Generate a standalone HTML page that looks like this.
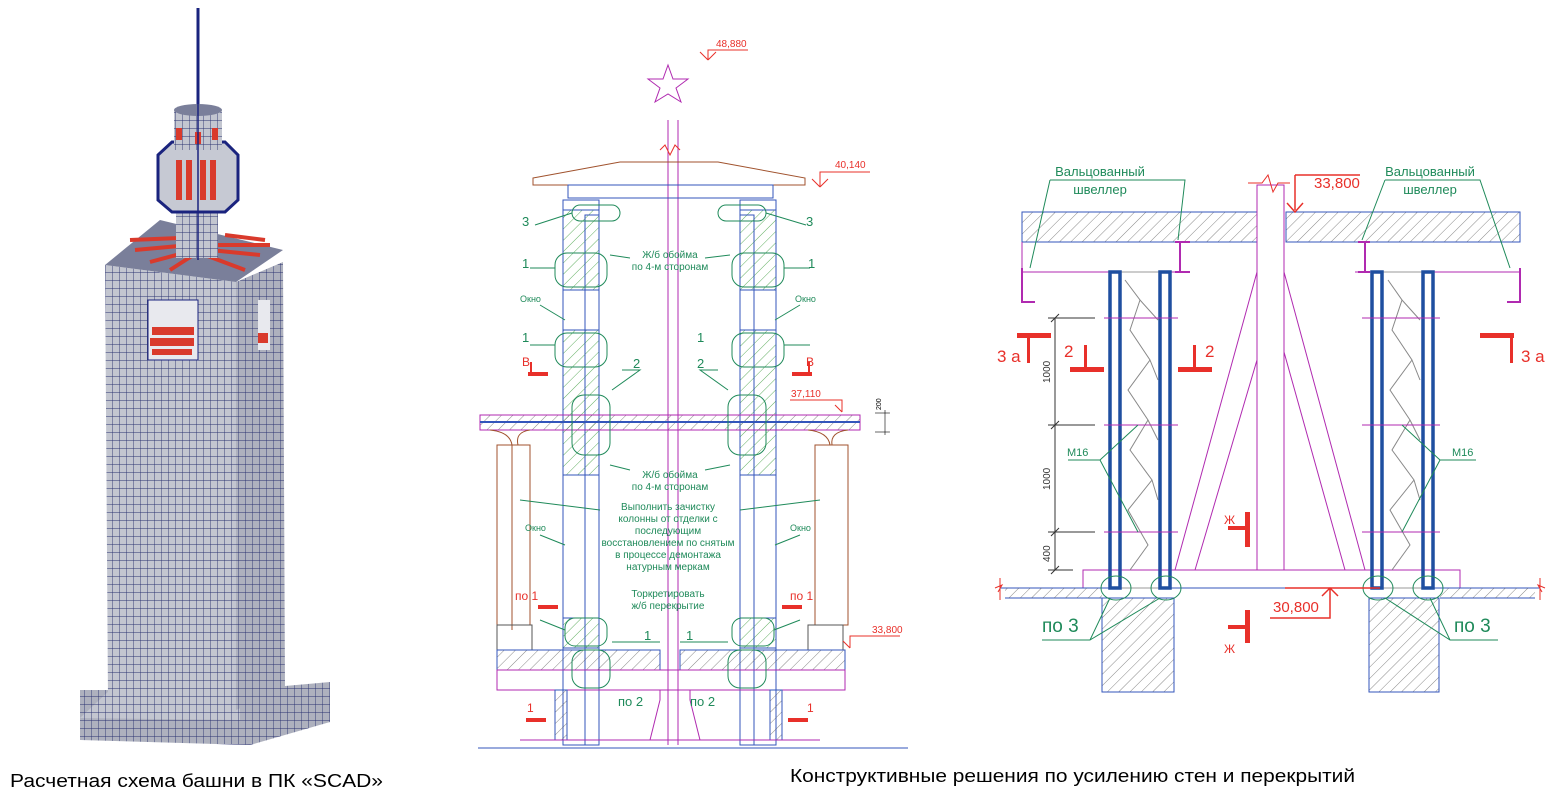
<!DOCTYPE html>
<html><head><meta charset="utf-8"><style>
body{margin:0;background:#fff;width:1564px;height:808px;overflow:hidden}
svg{display:block}
text{font-family:"Liberation Sans","DejaVu Sans",sans-serif}
.g{fill:#1f8a5a;font-size:10px}
.r{fill:#e8302a}
</style></head><body>
<svg width="1564" height="808" viewBox="0 0 1564 808" xmlns="http://www.w3.org/2000/svg">
<defs>
<pattern id="mesh" width="7" height="8" patternUnits="userSpaceOnUse"><rect width="7" height="8" fill="#c3c6d0"/><path d="M0 0H7M0 0V8" stroke="#2a3170" stroke-width="0.9"/></pattern>
<pattern id="mesh2" width="7" height="8" patternUnits="userSpaceOnUse"><rect width="7" height="8" fill="#aeb1be"/><path d="M0 0H7M0 0V8" stroke="#2a3170" stroke-width="0.9"/></pattern>
<pattern id="hat" width="8" height="8" patternUnits="userSpaceOnUse" patternTransform="rotate(45)"><path d="M0 0V8" stroke="#555" stroke-width="0.7"/></pattern>
<pattern id="hatg" width="8" height="8" patternUnits="userSpaceOnUse" patternTransform="rotate(45)"><path d="M0 0V8" stroke="#3a9a3a" stroke-width="0.8"/></pattern>
</defs>

<!-- ===== LEFT TOWER ===== -->
<line x1="198" y1="8" x2="198" y2="110" stroke="#1a237e" stroke-width="3"/>
<polygon points="80,690 240,690 330,682 330,722 250,745 80,740" fill="url(#mesh2)"/>
<polygon points="110,690 240,705 240,720 80,718" fill="url(#mesh)"/>
<polygon points="105,265 236,282 236,710 108,700" fill="url(#mesh)"/>
<polygon points="236,282 283,262 285,690 236,710" fill="url(#mesh2)"/>
<polygon points="105,265 160,220 283,250 236,282" fill="#7a7f9a"/>
<g stroke="#d93a2c" stroke-width="4">
<line x1="135" y1="250" x2="190" y2="245"/><line x1="150" y1="262" x2="195" y2="250"/><line x1="170" y1="270" x2="198" y2="252"/>
<line x1="210" y1="250" x2="260" y2="255"/><line x1="215" y1="245" x2="270" y2="245"/><line x1="205" y1="255" x2="245" y2="270"/>
<line x1="130" y1="240" x2="180" y2="238"/><line x1="225" y1="235" x2="265" y2="240"/></g>
<rect x="176" y="200" width="42" height="58" fill="url(#mesh)"/>
<polygon points="158,155 172,142 225,142 238,155 238,200 225,212 172,212 158,200" fill="#c6c9d3" stroke="#1a237e" stroke-width="3"/>
<g fill="#d93a2c"><rect x="176" y="160" width="6" height="40"/><rect x="186" y="160" width="6" height="40"/><rect x="200" y="160" width="6" height="40"/><rect x="210" y="160" width="6" height="40"/></g>
<rect x="174" y="110" width="48" height="40" fill="url(#mesh)"/>
<ellipse cx="198" cy="110" rx="24" ry="6" fill="#7a7f9a"/>
<g fill="#d93a2c"><rect x="176" y="128" width="6" height="12"/><rect x="195" y="132" width="6" height="12"/><rect x="212" y="128" width="6" height="12"/></g>
<line x1="198" y1="100" x2="198" y2="260" stroke="#1a237e" stroke-width="1.5"/>
<rect x="148" y="300" width="50" height="60" fill="#e8e9ee" stroke="#1a237e"/>
<g fill="#d93a2c"><rect x="152" y="327" width="42" height="8"/><rect x="150" y="338" width="44" height="8"/><rect x="152" y="349" width="40" height="6"/></g>
<rect x="258" y="300" width="12" height="50" fill="#e8e9ee"/><rect x="258" y="333" width="10" height="10" fill="#d93a2c"/>
<text x="10" y="787" font-size="18" fill="#000" textLength="373" lengthAdjust="spacingAndGlyphs">Расчетная схема башни в ПК «SCAD»</text>

<!-- ===== MIDDLE ===== -->
<g fill="none" stroke-width="1">
<line x1="668" y1="120" x2="668" y2="745" stroke="#b02ab0"/>
<line x1="678" y1="120" x2="678" y2="745" stroke="#b02ab0"/>
<polygon points="668,65 673,79 688,79 676,88 681,102 668,94 655,102 660,88 648,79 663,79" stroke="#b02ab0"/>
<polygon points="533,178 620,162 718,162 805,178 805,185 533,185" stroke="#a0522d"/>
<rect x="568" y="185" width="205" height="13" stroke="#3355bb"/>
<rect x="563" y="200" width="36" height="545" stroke="#3355bb"/>
<rect x="740" y="200" width="36" height="545" stroke="#3355bb"/>
<rect x="563" y="210" width="36" height="80" fill="url(#hatg)" stroke="#3355bb"/>
<rect x="740" y="210" width="36" height="80" fill="url(#hatg)" stroke="#3355bb"/>
<rect x="563" y="330" width="36" height="145" fill="url(#hatg)" stroke="#3355bb"/>
<rect x="740" y="330" width="36" height="145" fill="url(#hatg)" stroke="#3355bb"/>
<rect x="563" y="618" width="36" height="30" fill="url(#hatg)" stroke="#3355bb"/>
<rect x="740" y="618" width="36" height="30" fill="url(#hatg)" stroke="#3355bb"/>
<rect x="585" y="215" width="14" height="530" stroke="#3355bb"/>
<rect x="740" y="215" width="14" height="530" stroke="#3355bb"/>
<rect x="480" y="415" width="380" height="15" stroke="#b02ab0" fill="url(#hat)"/>
<line x1="480" y1="422" x2="860" y2="422" stroke="#3355bb" stroke-width="2"/>
<path d="M490 430 Q510 432 512 445 L512 630 M530 430 Q515 432 518 445" stroke="#a0522d"/>
<rect x="497" y="445" width="33" height="180" stroke="#a0522d"/>
<rect x="815" y="445" width="33" height="180" stroke="#a0522d"/>
<path d="M808 430 Q828 432 830 445 M848 430 Q830 432 832 445" stroke="#a0522d"/>
<rect x="497" y="625" width="35" height="25" stroke="#555"/>
<rect x="808" y="625" width="35" height="25" stroke="#555"/>
<rect x="497" y="650" width="163" height="20" fill="url(#hat)" stroke="#3355bb"/>
<rect x="680" y="650" width="165" height="20" fill="url(#hat)" stroke="#3355bb"/>
<rect x="497" y="670" width="348" height="20" stroke="#b02ab0"/>
<rect x="555" y="690" width="12" height="50" fill="url(#hat)" stroke="#3355bb"/>
<rect x="770" y="690" width="12" height="50" fill="url(#hat)" stroke="#3355bb"/>
<line x1="478" y1="748" x2="908" y2="748" stroke="#3355bb"/>
<line x1="520" y1="740" x2="820" y2="740" stroke="#b02ab0"/>
<path d="M650 740 L660 700 L660 690 M700 740 L690 700 L690 690" stroke="#b02ab0"/>
<g stroke="#1f8a5a">
<rect x="572" y="205" width="48" height="16" rx="8"/><rect x="718" y="205" width="48" height="16" rx="8"/>
<rect x="555" y="253" width="52" height="34" rx="12"/><rect x="732" y="253" width="52" height="34" rx="12"/>
<rect x="555" y="333" width="52" height="34" rx="12"/><rect x="732" y="333" width="52" height="34" rx="12"/>
<rect x="572" y="395" width="38" height="60" rx="12"/><rect x="728" y="395" width="38" height="60" rx="12"/>
<rect x="565" y="618" width="42" height="28" rx="10"/><rect x="732" y="618" width="42" height="28" rx="10"/>
<rect x="572" y="650" width="38" height="38" rx="12"/><rect x="728" y="650" width="38" height="38" rx="12"/>
<path d="M535 225 L572 213 M806 225 L766 213 M530 268 L555 268 M810 268 L784 268 M530 345 L555 345 M810 345 L784 345 M612 390 L640 370 L622 370 M728 390 L700 370 L718 370 M540 620 L565 630 M800 620 L774 630 M612 642 L660 642 M728 642 L680 642 M520 500 L600 510 M820 500 L740 510 M540 305 L565 320 M800 305 L775 320 M540 535 L565 545 M800 535 L775 545 M610 255 L630 258 M730 255 L705 258 M610 465 L630 470 M730 465 L705 470"/>
</g>
<g stroke="#e8302a" stroke-width="1">
<path d="M708 60 L708 50 L748 50 M708 60 L700 52 M708 60 L716 52"/>
<path d="M820 187 L820 172 L870 172 M820 187 L812 179 M820 187 L828 179"/>
<path d="M842 412 L842 400 L822 400 L790 400 M842 412 L835 405"/>
<path d="M850 648 L850 636 L900 636 M850 648 L843 641"/>
<path d="M660 150 L665 145 L670 155 L675 145 L680 150" />
</g>
<line x1="875" y1="413" x2="890" y2="413" stroke="#000" stroke-width="0.6"/><line x1="875" y1="432" x2="890" y2="432" stroke="#000" stroke-width="0.6"/><line x1="885" y1="410" x2="885" y2="435" stroke="#000" stroke-width="0.6"/>
</g>
<g fill="#e8302a">
<rect x="528" y="372" width="20" height="4"/><rect x="530" y="362" width="2" height="12"/>
<rect x="792" y="372" width="20" height="4"/><rect x="808" y="362" width="2" height="12"/>
<rect x="538" y="605" width="20" height="4"/><rect x="782" y="605" width="20" height="4"/>
<rect x="526" y="718" width="20" height="4"/><rect x="788" y="718" width="20" height="4"/>
</g>
<g font-size="10" fill="#e8302a">
<text x="716" y="47">48,880</text><text x="835" y="168">40,140</text><text x="791" y="397">37,110</text><text x="872" y="633">33,800</text>
<text x="522" y="366" font-size="12">В</text><text x="806" y="366" font-size="12">В</text>
<text x="515" y="600" font-size="12">по 1</text><text x="790" y="600" font-size="12">по 1</text>
<text x="527" y="712" font-size="12">1</text><text x="807" y="712" font-size="12">1</text>
</g>
<text x="873" y="408" font-size="7" fill="#000" transform="rotate(-90 878 405)">200</text>
<g class="g" font-size="11">
<text x="522" y="226" font-size="13">3</text><text x="806" y="226" font-size="13">3</text>
<text x="522" y="268" font-size="13">1</text><text x="808" y="268" font-size="13">1</text>
<text x="522" y="342" font-size="13">1</text><text x="697" y="342" font-size="13">1</text>
<text x="633" y="368" font-size="13">2</text><text x="697" y="368" font-size="13">2</text>
<text x="644" y="640" font-size="13">1</text><text x="686" y="640" font-size="13">1</text>
<text x="618" y="706" font-size="13">по 2</text><text x="690" y="706" font-size="13">по 2</text>
<text x="520" y="302" font-size="9">Окно</text><text x="795" y="302" font-size="9">Окно</text>
<text x="525" y="531" font-size="9">Окно</text><text x="790" y="531" font-size="9">Окно</text>
</g>
<g class="g" font-size="9" text-anchor="middle">
<text x="670" y="258">Ж/б обойма</text><text x="670" y="270">по 4-м сторонам</text>
<text x="670" y="478">Ж/б обойма</text><text x="670" y="490">по 4-м сторонам</text>
<text x="668" y="510">Выполнить зачистку</text><text x="668" y="522">колонны от отделки с</text><text x="668" y="534">последующим</text><text x="668" y="546">восстановлением по снятым</text><text x="668" y="558">в процессе демонтажа</text><text x="668" y="570">натурным меркам</text>
<text x="668" y="597">Торкретировать</text><text x="668" y="609">ж/б перекрытие</text>
</g>

<!-- ===== RIGHT ===== -->
<g fill="none" stroke-width="1">
<rect x="1022" y="212" width="235" height="30" fill="url(#hat)" stroke="#3355bb"/>
<rect x="1286" y="212" width="234" height="30" fill="url(#hat)" stroke="#3355bb"/>
<line x1="1022" y1="242" x2="1022" y2="272" stroke="#b02ab0"/>
<line x1="1022" y1="272" x2="1185" y2="272" stroke="#b02ab0"/>
<line x1="1355" y1="272" x2="1520" y2="272" stroke="#b02ab0"/>
<path d="M1022 268 L1022 302 L1035 302 M1180 242 L1180 272 M1175 242 L1190 242 M1175 272 L1190 272 M1365 242 L1365 272 M1358 242 L1370 242 M1358 272 L1370 272 M1520 268 L1520 302 L1507 302" stroke="#b02ab0" stroke-width="2"/>
<rect x="1257" y="185" width="27" height="385" stroke="#b02ab0"/>
<path d="M1248 183 L1262 183 L1268 175 L1273 192 L1278 183 L1290 183" stroke="#e8302a"/>
<path d="M1257 272 L1175 570 M1257 360 L1195 570 M1284 272 L1365 570 M1284 352 L1345 570" stroke="#b02ab0"/>
<rect x="1083" y="570" width="377" height="18" stroke="#b02ab0"/>
<path d="M1000 588 L1540 588 M1005 598 L1102 598 M1440 598 L1535 598" stroke="#3355bb"/>
<rect x="1005" y="588" width="97" height="10" fill="url(#hat)" stroke="none"/>
<rect x="1440" y="588" width="95" height="10" fill="url(#hat)" stroke="none"/>
<path d="M1000 578 L1000 600 M995 588 L1002 585 L998 592 M1540 578 L1540 600 M1545 588 L1538 585 L1542 592" stroke="#e8302a"/>
<rect x="1102" y="598" width="72" height="94" fill="url(#hat)" stroke="#3355bb"/>
<rect x="1369" y="598" width="70" height="94" fill="url(#hat)" stroke="#3355bb"/>
<rect x="1120" y="272" width="40" height="316" stroke="#999"/>
<rect x="1382" y="272" width="40" height="316" stroke="#999"/>
<path d="M1125 280 L1140 300 L1130 330 L1150 360 L1128 390 L1148 420 L1130 450 L1152 480 L1128 510 L1148 545 L1130 570 M1140 300 L1158 320 M1150 360 L1158 380 M1148 420 L1158 440 M1152 480 L1158 500" stroke="#888"/>
<path d="M1388 280 L1402 300 L1392 330 L1412 360 L1390 390 L1410 420 L1392 450 L1414 480 L1390 510 L1410 545 L1392 570 M1402 300 L1420 320 M1412 360 L1420 380 M1410 420 L1420 440 M1414 480 L1420 500" stroke="#888"/>
<g stroke="#1f4fa0" stroke-width="3.5">
<rect x="1110" y="272" width="10" height="316"/><rect x="1160" y="272" width="10" height="316"/>
<rect x="1372" y="272" width="10" height="316"/><rect x="1423" y="272" width="10" height="316"/>
</g>
<path d="M1104 318 L1178 318 M1104 425 L1178 425 M1104 532 L1178 532 M1362 318 L1440 318 M1362 425 L1440 425 M1362 532 L1440 532" stroke="#b02ab0"/>
<path d="M1055 318 L1055 570 M1048 318 L1095 318 M1048 425 L1095 425 M1048 532 L1095 532 M1048 570 L1073 570 M1051 322 L1059 314 M1051 429 L1059 421 M1051 536 L1059 528 M1051 574 L1059 566" stroke="#333"/>
<g stroke="#1f8a5a">
<path d="M1050 180 L1185 180 L1178 240 M1050 180 L1030 268 M1385 180 L1480 180 L1510 268 M1385 180 L1362 240"/>
<path d="M1068 460 L1100 460 L1138 425 M1100 460 L1138 532 M1476 460 L1440 460 L1402 425 M1440 460 L1402 532"/>
<ellipse cx="1116" cy="588" rx="15" ry="12"/><ellipse cx="1166" cy="588" rx="15" ry="12"/>
<ellipse cx="1378" cy="588" rx="15" ry="12"/><ellipse cx="1428" cy="588" rx="15" ry="12"/>
<path d="M1042 640 L1090 640 L1110 598 M1090 640 L1160 598 M1498 640 L1450 640 L1430 598 M1450 640 L1385 598"/>
</g>
<path d="M1295 175 L1360 175 M1295 175 L1295 210 M1287 203 L1295 212 L1303 203 M1285 588 L1380 588 M1330 588 L1330 618 L1270 618 M1322 596 L1330 588 L1338 596" stroke="#e8302a" stroke-width="1.5"/>
</g>
<g fill="#e8302a">
<rect x="1017" y="333" width="34" height="5"/><rect x="1027" y="338" width="3" height="25"/>
<rect x="1070" y="367" width="34" height="5"/><rect x="1084" y="345" width="3" height="22"/>
<rect x="1178" y="367" width="34" height="5"/><rect x="1193" y="345" width="3" height="22"/>
<rect x="1480" y="333" width="34" height="5"/><rect x="1510" y="338" width="3" height="25"/>
<rect x="1245" y="512" width="5" height="35"/><rect x="1228" y="526" width="17" height="4"/>
<rect x="1245" y="610" width="5" height="33"/><rect x="1228" y="625" width="17" height="4"/>
</g>
<g fill="#e8302a" font-size="17">
<text x="997" y="362">3 а</text><text x="1064" y="357">2</text><text x="1205" y="357">2</text><text x="1521" y="362">3 а</text>
<text x="1314" y="188" font-size="15">33,800</text><text x="1273" y="612" font-size="15">30,800</text>
<text x="1224" y="524" font-size="12">Ж</text><text x="1224" y="653" font-size="12">Ж</text>
</g>
<g fill="#1f8a5a" font-size="13" text-anchor="middle">
<text x="1100" y="176">Вальцованный</text><text x="1100" y="194">швеллер</text>
<text x="1430" y="176">Вальцованный</text><text x="1430" y="194">швеллер</text>
</g>
<text x="1067" y="456" font-size="11" fill="#1f8a5a">M16</text><text x="1452" y="456" font-size="11" fill="#1f8a5a">M16</text>
<text x="1042" y="632" font-size="19" fill="#1f8a5a">по  3</text><text x="1454" y="632" font-size="19" fill="#1f8a5a">по  3</text>
<g font-size="10" fill="#333">
<text transform="translate(1050 383) rotate(-90)">1000</text>
<text transform="translate(1050 490) rotate(-90)">1000</text>
<text transform="translate(1050 562) rotate(-90)">400</text>
</g>
<text x="790" y="782" font-size="18" fill="#000" textLength="565" lengthAdjust="spacingAndGlyphs">Конструктивные решения по усилению стен и перекрытий</text>
</svg>
</body></html>
